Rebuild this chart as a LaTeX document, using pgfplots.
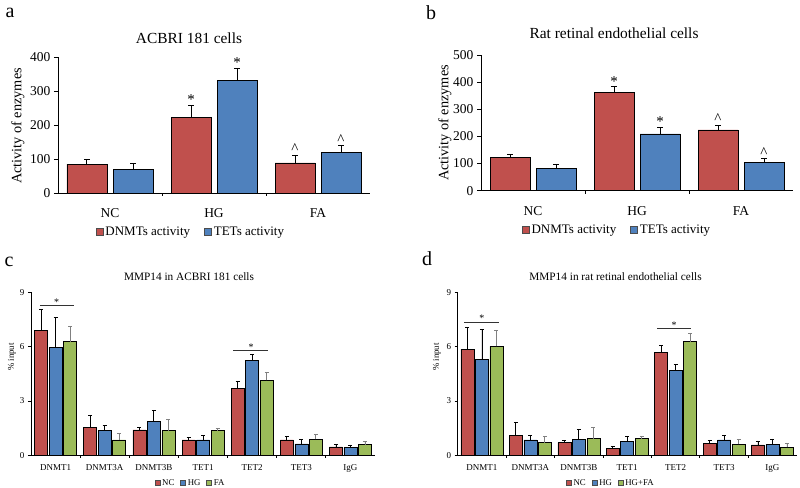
\documentclass[border=0pt]{standalone}
\usepackage{pgfplots}
\pgfplotsset{compat=1.18}
\usepackage{fontspec}
\setmainfont{Liberation Serif}
\definecolor{cred}{HTML}{C0504D}
\definecolor{cblue}{HTML}{4F81BD}
\definecolor{cgreen}{HTML}{9BBB59}
\pgfplotsset{
  base/.style={scale only axis, anchor=south west, axis lines=left,
    axis line style={-,black,line width=0.9pt}, ybar,
    /pgf/number format/assume math mode=true,
    tick align=outside, ytick style={black,line width=0.8pt},
    major x tick style={draw=none}, minor x tick style={black,line width=0.8pt},
    enlargelimits=false, clip=false,
    legend style={draw=none, fill=none, anchor=center},
  },
  big/.style={base, major tick length=4pt, minor tick length=3pt,
    xmin=-0.5, xmax=2.5, xtick={0,1,2}, xticklabels={NC,HG,FA}, minor xtick={0.5,1.5},
    tick label style={font=\fontsize{13.5}{13.5}\selectfont},
    xticklabel style={yshift=-8pt},
    legend columns=2,
    legend style={font=\fontsize{13}{13}\selectfont,
      /tikz/every even column/.append style={column sep=12pt}},
    legend image code/.code={\draw[##1,draw=black!70,line width=0.5pt] (0pt,-3.6pt) rectangle (7.2pt,3.6pt);},
  },
  small/.style={base, major tick length=3pt, minor tick length=2.5pt,
    xmin=-0.5, xmax=6.5, xtick={0,...,6}, xticklabels={DNMT1,DNMT3A,DNMT3B,TET1,TET2,TET3,IgG},
    minor xtick={0.5,1.5,...,5.5}, ymin=0, ymax=9, ytick={0,3,6,9},
    tick label style={font=\fontsize{9}{9}\selectfont},
    xticklabel style={yshift=-3pt},
    legend columns=3,
    legend style={font=\fontsize{8.8}{8.8}\selectfont,
      /tikz/every even column/.append style={column sep=4pt}},
    legend image code/.code={\draw[##1,draw=black!70,line width=0.4pt] (0pt,-2.5pt) rectangle (5pt,2.5pt);},
  },
  bigbar/.style={draw=black, line width=0.6pt, bar width=40pt,
    error bars/.cd, y dir=plus, y explicit,
    error bar style={black,line width=1pt},
    error mark options={rotate=90,black,mark size=3pt,line width=1pt}},
  smallbar/.style={draw=black, line width=0.5pt, bar width=13pt,
    error bars/.cd, y dir=plus, y explicit,
    error bar style={#1,line width=0.8pt},
    error mark options={rotate=90,#1,mark size=2pt,line width=0.8pt}},
}
\begin{document}
\begin{tikzpicture}[x=1pt,y=1pt]
% ---------- panel a ----------
\node[font=\fontsize{20}{20}\selectfont] at (10,474) {a};
\node[font=\fontsize{15.4}{15.4}\selectfont] at (189,449) {ACBRI 181 cells};
\node[rotate=90,font=\fontsize{14.3}{14.3}\selectfont] at (18,361) {Activity of enzymes};
\begin{axis}[big, at={(58pt,294pt)}, width=312pt, height=135.5pt, ymin=0, ymax=400, ytick={0,100,...,400},
  legend style={at={(0.426,-0.288)}}]
\addplot[fill=cred, bar shift=-23pt, bigbar] coordinates {(0,85.5) +- (0,14.5) (1,222) +- (0,36) (2,89) +- (0,23)};
\addplot[fill=cblue, bar shift=23pt, bigbar] coordinates {(0,69) +- (0,17.5) (1,333) +- (0,35) (2,120) +- (0,20)};
\legend{DNMTs activity, TETs activity}
\node[anchor=south,inner sep=0.5pt,xshift=-23pt,font=\fontsize{15}{15}\selectfont] at (axis cs:1,258) {*};
\node[anchor=south,inner sep=0.5pt,xshift=23pt,font=\fontsize{15}{15}\selectfont] at (axis cs:1,368) {*};
\node[anchor=south,inner sep=0pt,xshift=-23pt,yshift=1pt,font=\fontsize{15}{15}\selectfont] at (axis cs:2,112) {\^{}};
\node[anchor=south,inner sep=0pt,xshift=23pt,yshift=1pt,font=\fontsize{15}{15}\selectfont] at (axis cs:2,140) {\^{}};
\end{axis}
% ---------- panel b ----------
\node[font=\fontsize{20}{20}\selectfont] at (431,474) {b};
\node[font=\fontsize{15.4}{15.4}\selectfont] at (614,454) {Rat retinal endothelial cells};
\node[rotate=90,font=\fontsize{14.3}{14.3}\selectfont] at (445,364) {Activity of enzymes};
\begin{axis}[big, at={(481pt,296.3pt)}, width=312pt, height=135.7pt, ymin=0, ymax=500, ytick={0,100,...,500},
  legend style={at={(0.436,-0.29)}}]
\addplot[fill=cred, bar shift=-23pt, bigbar] coordinates {(0,123) +- (0,12) (1,361) +- (0,22) (2,224) +- (0,18)};
\addplot[fill=cblue, bar shift=23pt, bigbar] coordinates {(0,82) +- (0,15) (1,209) +- (0,24) (2,103) +- (0,16)};
\legend{DNMTs activity, TETs activity}
\node[anchor=south,inner sep=0.5pt,xshift=-23pt,font=\fontsize{15}{15}\selectfont] at (axis cs:1,383) {*};
\node[anchor=south,inner sep=0.5pt,xshift=23pt,font=\fontsize{15}{15}\selectfont] at (axis cs:1,233) {*};
\node[anchor=south,inner sep=0pt,xshift=-23pt,yshift=1pt,font=\fontsize{15}{15}\selectfont] at (axis cs:2,242) {\^{}};
\node[anchor=south,inner sep=0pt,xshift=23pt,yshift=1pt,font=\fontsize{15}{15}\selectfont] at (axis cs:2,119) {\^{}};
\end{axis}
% ---------- panel c ----------
\node[font=\fontsize{20}{20}\selectfont] at (9,225) {c};
\node[font=\fontsize{11.3}{11.3}\selectfont] at (189,210.3) {MMP14 in ACBRI 181 cells};
\node[rotate=90,font=\fontsize{8.8}{8.8}\selectfont] at (12,130) {\% input};
\begin{axis}[small, at={(31pt,31.7pt)}, width=344pt, height=163pt,
  legend style={at={(0.464,-0.17)}}]
\addplot[fill=cred, bar shift=-14.5pt, smallbar=black] coordinates {(0,6.88) +- (0,1.19) (1,1.53) +- (0,0.67) (2,1.40) +- (0,0.14) (3,0.85) +- (0,0.12) (4,3.69) +- (0,0.37) (5,0.85) +- (0,0.20) (6,0.46) +- (0,0.13)};
\addplot[fill=cblue, bar shift=0pt, smallbar=black] coordinates {(0,5.97) +- (0,1.64) (1,1.36) +- (0,0.28) (2,1.86) +- (0,0.60) (3,0.85) +- (0,0.25) (4,5.26) +- (0,0.33) (5,0.63) +- (0,0.25) (6,0.44) +- (0,0.13)};
\addplot[fill=cgreen, bar shift=14.5pt, smallbar=gray] coordinates {(0,6.27) +- (0,0.86) (1,0.85) +- (0,0.35) (2,1.36) +- (0,0.63) (3,1.36) +- (0,0.13) (4,4.14) +- (0,0.44) (5,0.88) +- (0,0.28) (6,0.59) +- (0,0.15)};
\legend{NC, HG, FA}
\draw[black!80,line width=0.8pt] (axis cs:-0.32,8.27) -- (axis cs:0.38,8.27);
\node[anchor=south,inner sep=0pt,font=\fontsize{10}{10}\selectfont] at (axis cs:0.02,8.27) {*};
\draw[black!80,line width=0.8pt] (axis cs:3.62,5.79) -- (axis cs:4.33,5.79);
\node[anchor=south,inner sep=0pt,font=\fontsize{10}{10}\selectfont] at (axis cs:3.98,5.79) {*};
\end{axis}
% ---------- panel d ----------
\node[font=\fontsize{20}{20}\selectfont] at (427,228) {d};
\node[font=\fontsize{11.3}{11.3}\selectfont] at (615.5,210.3) {MMP14 in rat retinal endothelial cells};
\node[rotate=90,font=\fontsize{8.8}{8.8}\selectfont] at (437,130) {\% input};
\begin{axis}[small, at={(457.7pt,31.7pt)}, width=339pt, height=163pt,
  legend style={at={(0.452,-0.17)}}]
\addplot[fill=cred, bar shift=-14.5pt, smallbar=black] coordinates {(0,5.86) +- (0,1.22) (1,1.12) +- (0,0.68) (2,0.70) +- (0,0.13) (3,0.37) +- (0,0.11) (4,5.70) +- (0,0.35) (5,0.64) +- (0,0.19) (6,0.57) +- (0,0.22)};
\addplot[fill=cblue, bar shift=0pt, smallbar=black] coordinates {(0,5.29) +- (0,1.66) (1,0.85) +- (0,0.25) (2,0.86) +- (0,0.59) (3,0.78) +- (0,0.25) (4,4.69) +- (0,0.33) (5,0.85) +- (0,0.23) (6,0.59) +- (0,0.31)};
\addplot[fill=cgreen, bar shift=14.5pt, smallbar=gray] coordinates {(0,6.01) +- (0,0.88) (1,0.70) +- (0,0.33) (2,0.92) +- (0,0.62) (3,0.92) +- (0,0.15) (4,6.27) +- (0,0.44) (5,0.61) +- (0,0.25) (6,0.44) +- (0,0.24)};
\legend{NC, HG, HG+FA}
\draw[black!80,line width=0.8pt] (axis cs:-0.36,7.35) -- (axis cs:0.36,7.35);
\node[anchor=south,inner sep=0pt,font=\fontsize{10}{10}\selectfont] at (axis cs:0,7.35) {*};
\draw[black!80,line width=0.8pt] (axis cs:3.62,7.0) -- (axis cs:4.32,7.0);
\node[anchor=south,inner sep=0pt,font=\fontsize{10}{10}\selectfont] at (axis cs:3.97,7.0) {*};
\end{axis}
\pgfresetboundingbox
\useasboundingbox (0,0) rectangle (800,487);
\end{tikzpicture}
\end{document}
